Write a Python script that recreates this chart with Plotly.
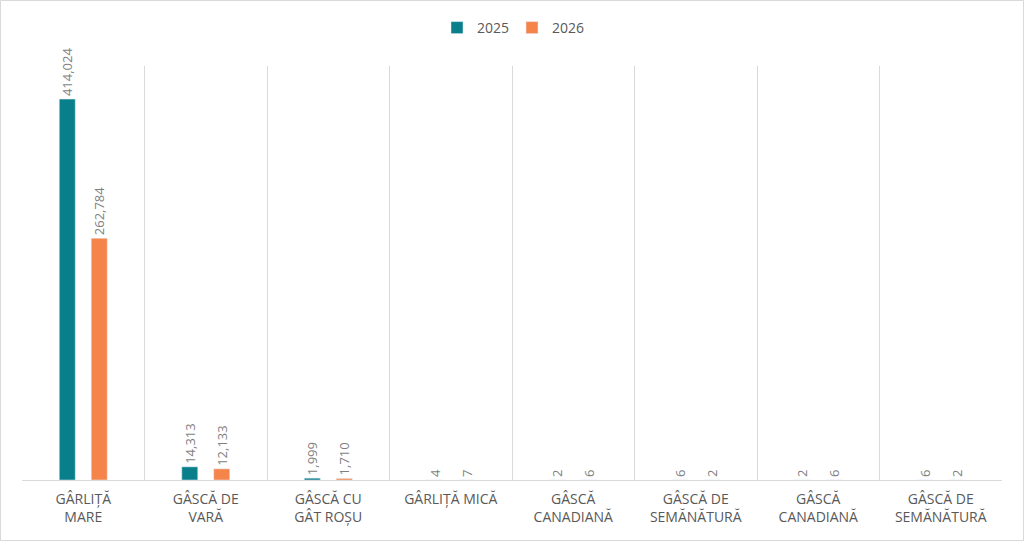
import plotly.graph_objects as go

categories = ["GÂRLIȚĂ<br>MARE", "GÂSCĂ DE<br>VARĂ", "GÂSCĂ CU<br>GÂT ROȘU", "GÂRLIȚĂ MICĂ",
              "GÂSCĂ<br>CANADIANĂ", "GÂSCĂ DE<br>SEMĂNĂTURĂ", "GÂSCĂ<br>CANADIANĂ", "GÂSCĂ DE<br>SEMĂNĂTURĂ"]
values_2025 = [414024, 14313, 1999, 4, 2, 6, 2, 6]
values_2026 = [262784, 12133, 1710, 7, 6, 2, 6, 2]
series_names = ["2025", "2026"]
colors = ["#0A7F8C", "#F5844A"]

W, H = 1024, 541
ML, MR, MT, MB = 22, 22, 66, 61
PW, PH = W - ML - MR, H - MT - MB

xs = list(range(len(categories)))
fig = go.Figure()
for name, vals, col in zip(series_names, [values_2025, values_2026], colors):
    fig.add_trace(go.Bar(
        x=xs, y=vals, name=name, marker_color=col,
        text=[f"{v:,}" for v in vals], textposition="outside", textangle=-90,
        textfont=dict(color="#7F7F7F", size=13), cliponaxis=False,
    ))

def px_x(p):
    return (p - ML) / PW

def px_y(p):
    return (H - MB - p) / PH

fig.update_layout(
    width=W, height=H,
    margin=dict(l=ML, r=MR, t=MT, b=MB),
    paper_bgcolor="white", plot_bgcolor="white",
    font=dict(family="Open Sans, Lato, sans-serif", color="#595959"),
    barmode="group", bargap=0.478, bargroupgap=0.5,
    uniformtext=dict(minsize=13, mode="show"),
    showlegend=True,
    legend=dict(orientation="h", x=0.5, xanchor="center", y=px_y(28), yanchor="middle",
                font=dict(size=14, color="#595959"), itemwidth=30, traceorder="normal",
                entrywidth=30, entrywidthmode="pixels"),
    xaxis=dict(range=[-0.5, len(categories) - 0.5], tickmode="array", tickvals=xs,
               ticktext=categories, showgrid=False, ticks="",
               tickfont=dict(size=14, color="#595959"), ticklabelstandoff=6,
               showline=True, linecolor="#D9D9D9", linewidth=1,
               minor=dict(tickmode="linear", tick0=-0.5, dtick=1, showgrid=True,
                          gridcolor="#D9D9D9", gridwidth=1, ticks="")),
    yaxis=dict(range=[0, 450000], showgrid=False, showticklabels=False, zeroline=False,
               ticks=""),
    shapes=[dict(type="rect", xref="paper", yref="paper",
                 x0=px_x(0.5), x1=px_x(W - 0.5), y0=px_y(H - 0.5), y1=px_y(0.5),
                 line=dict(color="#D9D9D9", width=1), layer="below")],
)

fig.write_html("out.html", config={"displayModeBar": False},
               post_script="document.body.style.margin='0';document.body.style.overflow='hidden';")
